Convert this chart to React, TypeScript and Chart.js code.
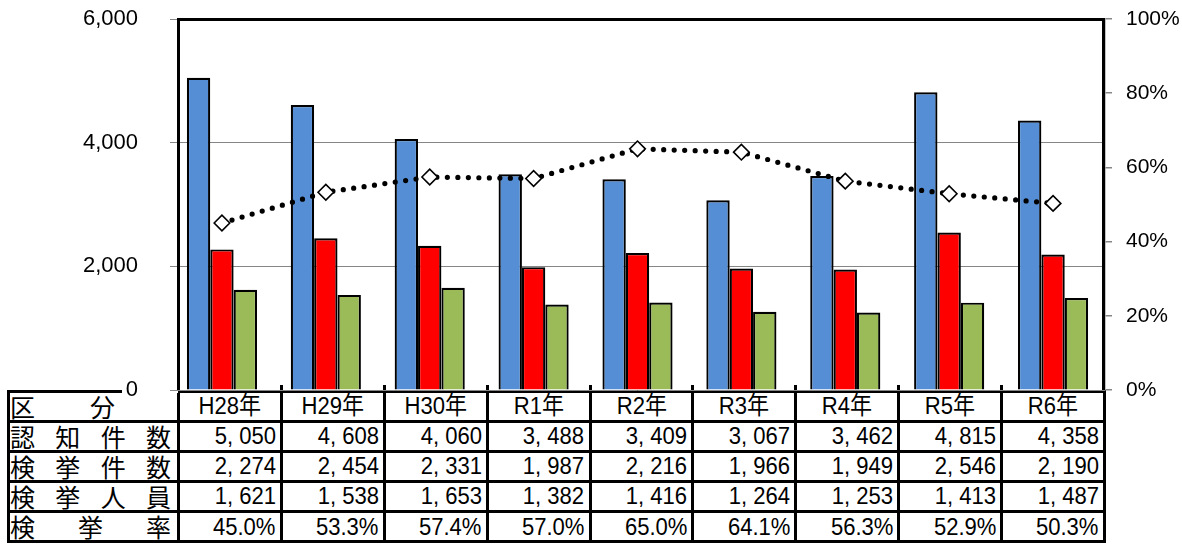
import React, { useEffect, useRef } from "react";
import { Chart, registerables } from "chart.js";

Chart.register(...registerables);

// ---- data ----
const categories = ["H28年", "H29年", "H30年", "R1年", "R2年", "R3年", "R4年", "R5年", "R6年"];
const recognized = [5050, 4608, 4060, 3488, 3409, 3067, 3462, 4815, 4358];
const cleared = [2274, 2454, 2331, 1987, 2216, 1966, 1949, 2546, 2190];
const persons = [1621, 1538, 1653, 1382, 1416, 1264, 1253, 1413, 1487];
const clearanceRate = [45.0, 53.3, 57.4, 57.0, 65.0, 64.1, 56.3, 52.9, 50.3];

const headerLabel = "区分";
const rowLabels = ["認知件数", "検挙件数", "検挙人員", "検挙率"];
const leftTicks = [0, 2000, 4000, 6000];
const rightTicks = [0, 20, 40, 60, 80, 100];

// ---- layout constants ----
const W = 1182;
const H = 544;
const TABLE_LEFT = 7;
const TABLE_TOP = 389.5;
const LINE = 3;
const FIRST_COL = 167;
const DATA_COL = (1103 - 180 - 8 * LINE) / 9;
const ROW_H = 27.2;

const NUM_FONT = "'Liberation Sans', Arial, 'Noto Sans CJK JP', sans-serif";
const CJK_FONT = "'Noto Sans CJK JP', sans-serif";

function fmtNum(n: number): string {
  return n.toLocaleString("en-US").replace(",", ", ");
}
function fmtPct(n: number): string {
  return n.toFixed(1) + "%";
}

const framePlugin = {
  id: "frameDeco",
  beforeDraw(chart: any) {
    const { ctx, chartArea: a } = chart;
    ctx.save();
    ctx.fillStyle = "#ffffff";
    ctx.fillRect(a.left - 48, a.bottom - 9, 56, 12);
    ctx.restore();
  },
  afterDraw(chart: any) {
    const { ctx, chartArea: a } = chart;
    ctx.save();
    ctx.strokeStyle = "#000000";
    ctx.lineWidth = 3;
    ctx.lineJoin = "miter";
    const x0 = a.left + 8.5;
    const x1 = a.right - 1.5;
    const y0 = a.top + 0.5;
    ctx.beginPath();
    ctx.moveTo(x0, a.bottom);
    ctx.lineTo(x0, y0);
    ctx.lineTo(x1, y0);
    ctx.lineTo(x1, a.bottom);
    ctx.stroke();
    ctx.restore();
  },
};

function ChartCanvas() {
  const ref = useRef<HTMLCanvasElement | null>(null);
  useEffect(() => {
    if (!ref.current) return;
    const barCommon = {
      yAxisID: "y",
      order: 1,
      borderColor: "#000000",
      borderWidth: 2.2,
      categoryPercentage: 0.675,
      barPercentage: 1,
    };
    const chart = new Chart(ref.current, {
      type: "bar",
      data: {
        labels: categories,
        datasets: [
          {
            type: "line",
            label: "検挙率",
            data: clearanceRate,
            yAxisID: "y1",
            order: 0,
            borderColor: "#000000",
            borderWidth: 5.2,
            borderDash: [0, 10.5],
            borderCapStyle: "round",
            fill: false,
            tension: 0,
            pointStyle: "rectRot",
            pointRadius: 7.8,
            pointBorderWidth: 1.6,
            pointBorderColor: "#000000",
            pointBackgroundColor: "#ffffff",
          } as any,
          { ...barCommon, label: "認知件数", data: recognized, backgroundColor: "#558ED5" },
          { ...barCommon, label: "検挙件数", data: cleared, backgroundColor: "#FF0000" },
          { ...barCommon, label: "検挙人員", data: persons, backgroundColor: "#9BBB59" },
        ],
      },
      options: {
        responsive: false,
        animation: false,
        layout: { padding: { left: 0, right: 0, top: 19, bottom: H - 390 } },
        plugins: {
          legend: { display: false },
          tooltip: { enabled: false },
        },
        scales: {
          x: {
            display: false,
            offset: true,
            grid: { display: false },
          },
          y: {
            position: "left",
            min: 0,
            max: 6000,
            afterBuildTicks: (scale: any) => {
              scale.ticks = leftTicks.map((v) => ({ value: v }));
            },
            afterFit: (scale: any) => {
              scale.width = 170;
              scale.paddingTop = 0;
              scale.paddingBottom = 0;
            },
            ticks: {
              padding: 32,
              color: "#000000",
              font: { family: "'Liberation Sans', Arial, sans-serif", size: 22 },
              callback: (v: any) => Number(v).toLocaleString("en-US"),
            },
            grid: {
              color: "#868686",
              lineWidth: 1,
              drawTicks: false,
            },
            border: { display: false },
          },
          y1: {
            position: "right",
            min: 0,
            max: 100,
            afterBuildTicks: (scale: any) => {
              scale.ticks = rightTicks.map((v) => ({ value: v }));
            },
            afterFit: (scale: any) => {
              scale.width = W - 1105;
              scale.paddingTop = 0;
              scale.paddingBottom = 0;
            },
            ticks: {
              padding: 14,
              color: "#000000",
              font: { family: "'Liberation Sans', Arial, sans-serif", size: 21 },
              callback: (v: any) => v + "%",
            },
            grid: {
              drawOnChartArea: false,
              drawTicks: true,
              tickLength: 7,
              color: "#868686",
              lineWidth: 1.5,
            },
            border: { display: true, color: "#868686", width: 1.5 },
          },
        },
      } as any,
      plugins: [framePlugin],
    });
    return () => chart.destroy();
  }, []);
  return (
    <canvas
      ref={ref}
      width={W}
      height={H}
      style={{ position: "absolute", left: 0, top: 0, width: W, height: H, zIndex: 1 }}
    />
  );
}

function LabelCell({ text, padRight }: { text: string; padRight: number }) {
  return (
    <div
      style={{
        background: "#fff",
        display: "flex",
        justifyContent: "space-between",
        alignItems: "center",
        paddingLeft: 0,
        paddingRight: padRight,
        fontFamily: CJK_FONT,
        fontSize: 25,
        lineHeight: 1,
        color: "#000",
      }}
    >
      {Array.from(text).map((ch, i) => (
        <span key={i}>{ch}</span>
      ))}
    </div>
  );
}

function ValueCell({ text, center }: { text: string; center?: boolean }) {
  return (
    <div
      style={{
        background: "#fff",
        display: "flex",
        justifyContent: center ? "center" : "flex-end",
        alignItems: "center",
        paddingRight: center ? 0 : 4,
        fontFamily: NUM_FONT,
        fontSize: 24.5,
        lineHeight: 1,
        color: "#000",
        whiteSpace: "nowrap",
        overflow: "hidden",
      }}
    >
      <span
        style={{
          display: "inline-block",
          transform: "scaleX(0.9)",
          transformOrigin: center ? "center" : "right",
        }}
      >
        {text}
      </span>
    </div>
  );
}

function DataTable() {
  const rows: string[][] = [
    recognized.map(fmtNum),
    cleared.map(fmtNum),
    persons.map(fmtNum),
    clearanceRate.map(fmtPct),
  ];
  const cells: React.ReactNode[] = [];
  cells.push(<LabelCell key="h" text={headerLabel} padRight={62} />);
  categories.forEach((c, i) => cells.push(<ValueCell key={"c" + i} text={c} center />));
  rows.forEach((r, ri) => {
    cells.push(<LabelCell key={"l" + ri} text={rowLabels[ri]} padRight={6} />);
    r.forEach((v, ci) => cells.push(<ValueCell key={"v" + ri + "-" + ci} text={v} />));
  });
  const ticks: React.ReactNode[] = [];
  for (let i = 1; i < categories.length; i++) {
    const left = TABLE_LEFT + LINE + FIRST_COL + LINE + i * (DATA_COL + LINE) - LINE;
    ticks.push(
      <div
        key={"t" + i}
        style={{ position: "absolute", left, top: TABLE_TOP - 5, width: LINE, height: 6, background: "#000" }}
      />
    );
  }
  return (
    <>
      <div
        style={{
          position: "absolute",
          left: TABLE_LEFT,
          top: TABLE_TOP,
          display: "grid",
          gridTemplateColumns: `${FIRST_COL}px repeat(9, ${DATA_COL}px)`,
          gridTemplateRows: `repeat(5, ${ROW_H}px)`,
          gap: LINE,
          padding: LINE,
          background: "#000",
          zIndex: 0,
        }}
      >
        {cells}
      </div>
      {ticks}
    </>
  );
}

export default function App() {
  return (
    <div
      style={{
        position: "absolute",
        left: 0,
        top: 0,
        width: W,
        height: H,
        overflow: "hidden",
        background: "#fff",
      }}
    >
      <DataTable />
      <ChartCanvas />
    </div>
  );
}
